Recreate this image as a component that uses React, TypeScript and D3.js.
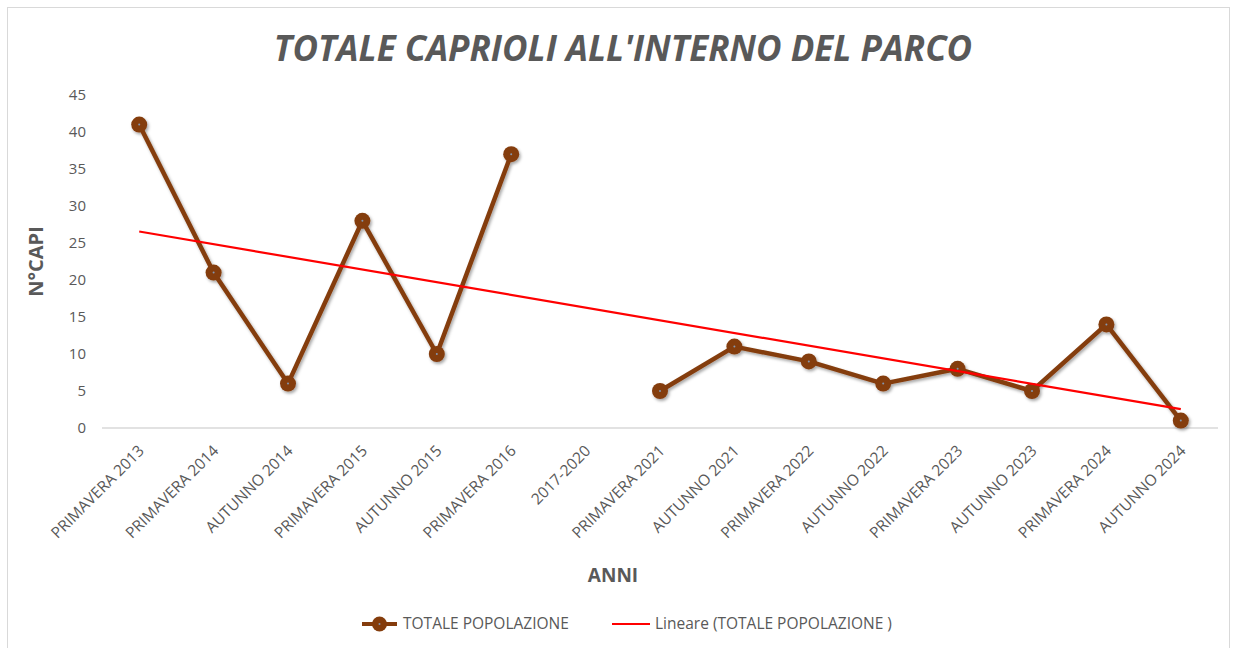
import React from "react";
import { scaleBand, scaleLinear, line, mean, sum } from "d3";

const categories = [
  "PRIMAVERA 2013",
  "PRIMAVERA 2014",
  "AUTUNNO 2014",
  "PRIMAVERA 2015",
  "AUTUNNO 2015",
  "PRIMAVERA 2016",
  "2017-2020",
  "PRIMAVERA 2021",
  "AUTUNNO 2021",
  "PRIMAVERA 2022",
  "AUTUNNO 2022",
  "PRIMAVERA 2023",
  "AUTUNNO 2023",
  "PRIMAVERA 2024",
  "AUTUNNO 2024",
];
const popolazione: (number | null)[] = [41, 21, 6, 28, 10, 37, null, 5, 11, 9, 6, 8, 5, 14, 1];
const yTicks = [0, 5, 10, 15, 20, 25, 30, 35, 40, 45];

const width = 1237;
const height = 648;
const margin = { top: 95, right: 19, bottom: 220, left: 102 };
const innerWidth = width - margin.left - margin.right;
const innerHeight = height - margin.top - margin.bottom;

const brown = "#843C0C";
const grey = "#595959";
const font = "'Open Sans', 'Liberation Sans', sans-serif";

export default function App() {
  const x = scaleBand().domain(categories).range([0, innerWidth]);
  const y = scaleLinear().domain([0, 45]).range([innerHeight, 0]);
  const cx = (c: string) => (x(c) ?? 0) + x.bandwidth() / 2;

  const pts = categories
    .map((c, i) => ({ c, i: i + 1, v: popolazione[i] }))
    .filter((d) => d.v !== null) as { c: string; i: number; v: number }[];

  // linear trendline, like the spreadsheet does (x = 1..n)
  const mx = mean(pts, (d) => d.i)!;
  const my = mean(pts, (d) => d.v)!;
  const slope =
    sum(pts, (d) => (d.i - mx) * (d.v - my)) / sum(pts, (d) => (d.i - mx) ** 2);
  const icpt = my - slope * mx;
  const first = categories[0];
  const last = categories[categories.length - 1];

  const path = line<{ c: string; v: number | null }>()
    .defined((d) => d.v !== null)
    .x((d) => cx(d.c))
    .y((d) => y(d.v as number));

  const data = categories.map((c, i) => ({ c, v: popolazione[i] }));

  return (
    <svg
      width={width}
      height={height}
      style={{ position: "absolute", left: 0, top: 0, background: "#fff" }}
      fontFamily={font}
    >
      <defs>
        <filter id="sh" x="-50%" y="-50%" width="200%" height="200%">
          <feDropShadow dx="1.5" dy="2" stdDeviation="1.8" floodColor="#000" floodOpacity="0.35" />
        </filter>
      </defs>
      <rect x={7.5} y={7.5} width={1222} height={660} fill="#fff" stroke="#D9D9D9" />
      <text
        x={623}
        y={61}
        textAnchor="middle"
        fontSize={35}
        fontWeight="bold"
        fontStyle="italic"
        fill={grey}
      >
        TOTALE CAPRIOLI ALL'INTERNO DEL PARCO
      </text>
      <text
        transform={`translate(43,${margin.top + innerHeight / 2}) rotate(-90)`}
        textAnchor="middle"
        fontSize={20}
        fontWeight="bold"
        fill={grey}
      >
        N°CAPI
      </text>
      <text x={613} y={582} textAnchor="middle" fontSize={19} fontWeight="bold" fill={grey}>
        ANNI
      </text>
      <g transform={`translate(${margin.left},${margin.top})`}>
        {yTicks.map((t) => (
          <text
            key={t}
            x={-16}
            y={y(t)}
            dy="0.35em"
            textAnchor="end"
            fontSize={15}
            fill={grey}
          >
            {t}
          </text>
        ))}
        <line x1={0} x2={innerWidth} y1={innerHeight} y2={innerHeight} stroke="#D9D9D9" strokeWidth={1.5} />
        {categories.map((c) => (
          <text
            key={c}
            transform={`translate(${cx(c) + 2},${innerHeight + 20}) rotate(-45)`}
            textAnchor="end"
            dy="0.35em"
            fontSize={15.5}
            fill={grey}
          >
            {c}
          </text>
        ))}
        <g filter="url(#sh)">
          <path d={path(data) ?? ""} fill="none" stroke={brown} strokeWidth={4.5} strokeLinejoin="round" />
          {pts.map((d) => (
            <circle key={d.c} cx={cx(d.c)} cy={y(d.v)} r={8} fill={brown} />
          ))}
        </g>
        {pts.map((d) => (
          <circle key={d.c + "dot"} cx={cx(d.c)} cy={y(d.v)} r={1} fill="#8497B0" />
        ))}
        <line
          x1={cx(first)}
          x2={cx(last)}
          y1={y(icpt + slope * 1)}
          y2={y(icpt + slope * categories.length)}
          stroke="#FF0000"
          strokeWidth={2.2}
        />
      </g>
      <g transform="translate(0,624)">
        <line x1={362} x2={397} y1={0} y2={0} stroke={brown} strokeWidth={4} />
        <circle cx={379.5} cy={0} r={7.5} fill={brown} />
        <circle cx={379.5} cy={0} r={1} fill="#8497B0" />
        <text x={403} y={0} dy="0.35em" fontSize={15.5} fill={grey}>
          TOTALE POPOLAZIONE
        </text>
        <line x1={612} x2={650} y1={0} y2={0} stroke="#FF0000" strokeWidth={2.2} />
        <text x={655} y={0} dy="0.35em" fontSize={15.5} fill={grey}>
          Lineare (TOTALE POPOLAZIONE )
        </text>
      </g>
    </svg>
  );
}
